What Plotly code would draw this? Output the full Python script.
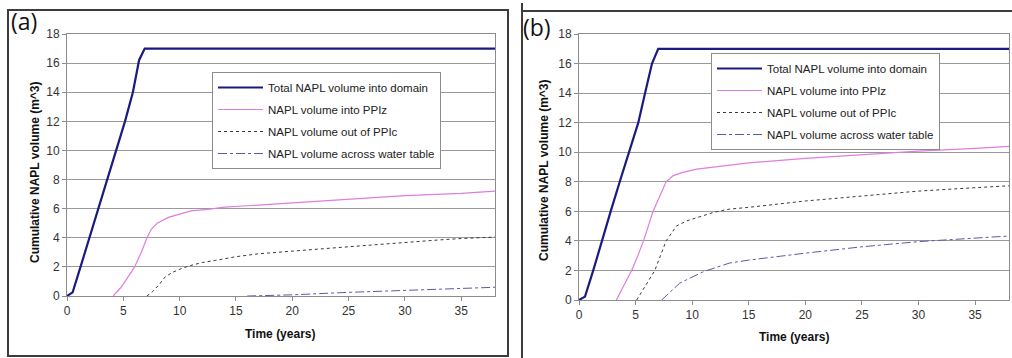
import plotly.graph_objects as go

W, H = 1012, 358

# ---------------- data ----------------
series_names = ["Total NAPL volume into domain", "NAPL volume into PPIz",
                "NAPL volume out of PPIc", "NAPL volume across water table"]

# panel (a)
a_total_t = [0, 0.5, 1.2, 2.0, 2.8, 3.6, 4.4, 5.15, 5.85, 6.4, 6.9, 38]
a_total_v = [0, 0.25, 2, 4, 6, 8, 10, 12, 14, 16.2, 17, 17]
a_ppiz_t = [4.1, 4.8, 5.5, 6.0, 6.6, 7.1, 7.5, 8.0, 9.0, 10.0, 11.0, 12.5, 14, 16, 20, 25, 30, 35, 38]
a_ppiz_v = [0, 0.6, 1.4, 2.0, 3.0, 4.0, 4.6, 5.0, 5.4, 5.65, 5.85, 5.95, 6.1, 6.2, 6.4, 6.65, 6.9, 7.05, 7.2]
a_ppic_t = [7.1, 7.6, 8.2, 8.7, 9.3, 10.2, 11, 12, 13.2, 15, 17, 20, 23.6, 27, 30, 33, 35, 38]
a_ppic_v = [0, 0.3, 0.8, 1.3, 1.6, 1.9, 2.1, 2.3, 2.45, 2.7, 2.9, 3.1, 3.3, 3.5, 3.7, 3.85, 3.95, 4.05]
a_wt_t = [16, 20, 25, 30, 35, 38]
a_wt_v = [0, 0.08, 0.25, 0.4, 0.52, 0.6]

# panel (b)
b_total_t = [0, 0.53, 1.26, 2.0, 2.8, 3.6, 4.44, 5.24, 5.84, 6.45, 7.0, 38]
b_total_v = [0, 0.23, 2, 4, 6, 8, 10, 12, 14, 16, 17, 17]
b_ppiz_t = [3.3, 4.0, 4.65, 5.2, 5.7, 6.55, 7.2, 7.7, 8.3, 9.0, 10.4, 12, 13.3, 15, 20, 25, 30, 35, 38]
b_ppiz_v = [0, 1.0, 2, 3, 4, 6, 7.2, 8.0, 8.4, 8.6, 8.86, 9.02, 9.15, 9.28, 9.58, 9.85, 10.08, 10.26, 10.4]
b_ppic_t = [5.1, 5.9, 6.7, 7.2, 7.7, 8.6, 9.5, 10.7, 12, 13.3, 15, 20, 25, 30, 35, 38]
b_ppic_v = [0, 1.0, 2, 3, 4, 5.0, 5.35, 5.64, 5.95, 6.15, 6.27, 6.7, 7.04, 7.37, 7.6, 7.73]
b_wt_t = [7.3, 8.0, 8.9, 10, 11, 13.3, 15, 20, 25, 30, 35, 38]
b_wt_v = [0, 0.5, 1.14, 1.55, 1.92, 2.5, 2.7, 3.17, 3.6, 3.95, 4.17, 4.33]

x_ticks = [0, 5, 10, 15, 20, 25, 30, 35]
y_ticks = [0, 2, 4, 6, 8, 10, 12, 14, 16, 18]

# ---------------- styling ----------------
styles = [
    dict(color="#1a1a80", width=2.2, dash="solid"),
    dict(color="#de7ede", width=1.2, dash="solid"),
    dict(color="#3a3a3a", width=1, dash="dot"),
    dict(color="#5a5aa8", width=1, dash="dashdot"),
]
FONT = "Liberation Sans, Arial, sans-serif"

def px(x):
    return x / W

def py(y):
    return 1 - y / H

fig = go.Figure()

panels = [
    ("x", "y", "legend", [(a_total_t, a_total_v), (a_ppiz_t, a_ppiz_v), (a_ppic_t, a_ppic_v), (a_wt_t, a_wt_v)]),
    ("x2", "y2", "legend2", [(b_total_t, b_total_v), (b_ppiz_t, b_ppiz_v), (b_ppic_t, b_ppic_v), (b_wt_t, b_wt_v)]),
]
for xa, ya, lg, data in panels:
    for i, (t, v) in enumerate(data):
        fig.add_trace(go.Scatter(
            x=t, y=v, mode="lines", name=series_names[i], line=styles[i],
            xaxis=xa, yaxis=ya, legend=lg, legendgroup=lg + str(i),
        ))

axis_common = dict(
    showline=True, mirror=True, linecolor="#8c8c8c", linewidth=1,
    ticks="outside", ticklen=4, tickcolor="#8c8c8c",
    tickfont=dict(family=FONT, size=12, color="#333333"),
    zeroline=False, automargin=False,
)
xcommon = dict(axis_common, range=[0, 38], tickvals=x_ticks, showgrid=False)
ycommon = dict(axis_common, range=[0, 18], tickvals=y_ticks, showgrid=True,
               gridcolor="#9a9a9a", gridwidth=1)

legend_common = dict(
    bgcolor="white", bordercolor="#8c8c8c", borderwidth=1,
    font=dict(family=FONT, size=11.5, color="#222222"),
    xanchor="left", yanchor="top", tracegroupgap=3,
    itemwidth=45,
)

fig.update_layout(
    width=W, height=H,
    margin=dict(l=0, r=0, t=0, b=0, pad=0, autoexpand=False),
    paper_bgcolor="white", plot_bgcolor="white",
    showlegend=True,
    xaxis=dict(xcommon, domain=[px(67), px(495)], anchor="y"),
    yaxis=dict(ycommon, domain=[py(296), py(34)], anchor="x"),
    xaxis2=dict(xcommon, domain=[px(579), px(1009)], anchor="y2"),
    yaxis2=dict(ycommon, domain=[py(300), py(34)], anchor="x2"),
    legend=dict(legend_common, x=px(212), y=py(72)),
    legend2=dict(legend_common, x=px(711), y=py(53)),
)

# panel frames
frame = dict(color="#3c3c3c", width=2)
shapes = [
    dict(type="rect", xref="paper", yref="paper", x0=px(8), x1=px(508), y0=py(356), y1=py(10), line=frame),
    dict(type="line", xref="paper", yref="paper", x0=px(522), x1=px(522), y0=py(358), y1=py(3), line=frame),
    dict(type="line", xref="paper", yref="paper", x0=px(522), x1=px(1012), y0=py(11), y1=py(11), line=frame),
]
fig.update_layout(shapes=shapes)

ann = []
# panel labels
ann.append(dict(text="(a)", x=px(9), y=py(3), xref="paper", yref="paper", xanchor="left", yanchor="top",
                showarrow=False, font=dict(family="Open Sans, DejaVu Sans, sans-serif", size=23, color="#111111")))
ann.append(dict(text="(b)", x=px(521), y=py(9), xref="paper", yref="paper", xanchor="left", yanchor="top",
                showarrow=False, font=dict(family="Open Sans, DejaVu Sans, sans-serif", size=23, color="#111111")))
# axis titles
title_font = dict(family=FONT, size=12, color="#111111")
for xc, yc in [(35, 172), (544, 170)]:
    ann.append(dict(text="<b>Cumulative NAPL volume (m^3)</b>", x=px(xc), y=py(yc), xref="paper", yref="paper",
                    xanchor="center", yanchor="middle", textangle=-90, showarrow=False, font=title_font))
for xc, yc in [(280, 334), (794, 337)]:
    ann.append(dict(text="<b>Time (years)</b>", x=px(xc), y=py(yc), xref="paper", yref="paper",
                    xanchor="center", yanchor="middle", showarrow=False, font=title_font))
fig.update_layout(annotations=ann)

fig.write_html(
    "out.html",
    config={"displayModeBar": False},
    post_script="document.body.style.margin='0';document.body.style.overflow='hidden';",
)
